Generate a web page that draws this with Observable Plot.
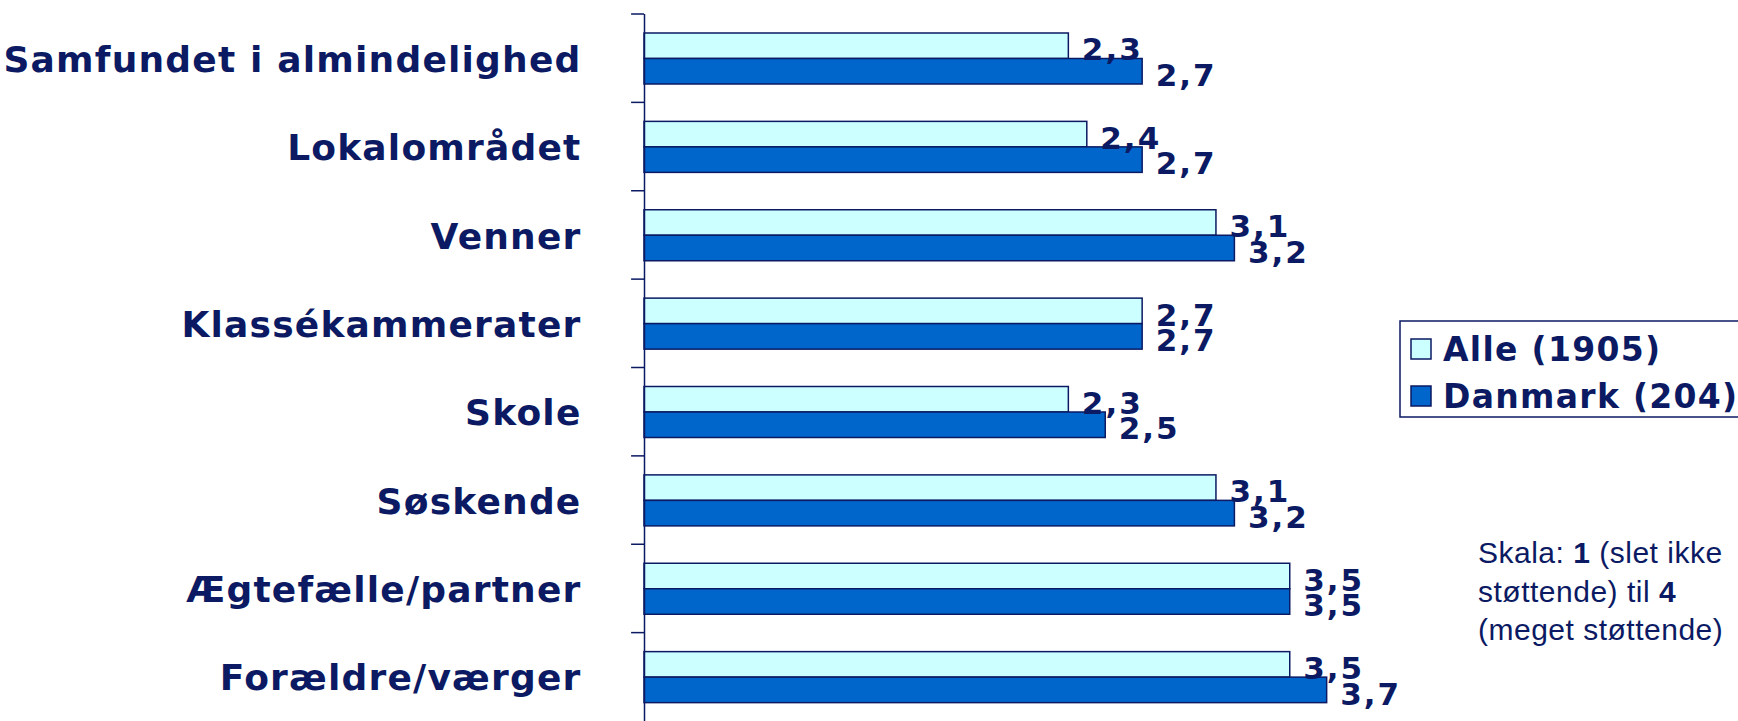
<!DOCTYPE html>
<html>
<head>
<meta charset="utf-8">
<script src="https://cdn.jsdelivr.net/npm/d3@7"></script>
<script src="https://cdn.jsdelivr.net/npm/@observablehq/plot@0.6"></script>
<style>
  html, body { margin: 0; padding: 0; background: #ffffff; }
  #wrap { position: relative; width: 1738px; height: 721px; overflow: hidden; }
  #wrap svg.chart g[aria-label="text"] text { letter-spacing: 2px; }
  #overlay { position: absolute; left: 0; top: 0; pointer-events: none; }
</style>
</head>
<body>
<div id="wrap"></div>
<script>
// ---- data ----
const categories = [
  "Samfundet i almindelighed",
  "Lokalområdet",
  "Venner",
  "Klassékammerater",
  "Skole",
  "Søskende",
  "Ægtefælle/partner",
  "Forældre/værger"
];
const seriesNames = ["Alle (1905)", "Danmark (204)"];
const alleValues = [2.3, 2.4, 3.1, 2.7, 2.3, 3.1, 3.5, 3.5];
const danmarkValues = [2.7, 2.7, 3.2, 2.7, 2.5, 3.2, 3.5, 3.7];
const scaleNote = [
  [["Skala: ", false], ["1", true], [" (slet ikke", false]],
  [["støttende) til ", false], ["4", true]],
  [["(meget støttende)", false]]
];

// ---- styles ----
const navy = "#0b1a63";
const fillAlle = "#ccffff";
const fillDanmark = "#0066cc";
const W = 1738, H = 721, mTop = 14, mBottom = 0, mLeft = 644, mRight = 356;
const step = (H - mTop - mBottom) / categories.length;
const barH = 25.5, groupTop = 19;
const tickLen = 0.07; // tick length in x units (outside the axis)

const fmt = v => v.toFixed(1).replace(".", ",");
const alleRows = categories.map((c, i) => ({category: c, value: alleValues[i], series: seriesNames[0]}));
const danRows = categories.map((c, i) => ({category: c, value: danmarkValues[i], series: seriesNames[1]}));

const centerA = groupTop + barH / 2 - step / 2;
const centerD = groupTop + barH * 1.5 - step / 2;

const chart = Plot.plot({
  width: W,
  height: H,
  marginTop: mTop,
  marginBottom: mBottom,
  marginLeft: mLeft,
  marginRight: mRight,
  style: {background: "transparent", overflow: "visible"},
  x: {domain: [0, 4], axis: null},
  y: {type: "band", domain: categories, padding: 0, round: false, axis: null},
  marks: [
    Plot.barX(alleRows, {
      x: "value", y: "category", fill: fillAlle, stroke: navy, strokeWidth: 1.5,
      insetTop: groupTop, insetBottom: step - groupTop - barH
    }),
    Plot.barX(danRows, {
      x: "value", y: "category", fill: fillDanmark, stroke: navy, strokeWidth: 1.5,
      insetTop: groupTop + barH, insetBottom: step - groupTop - 2 * barH
    }),
    // category boundary ticks on the left of the axis
    Plot.barX(categories, {
      y: d => d, x1: -tickLen, x2: 0, fill: navy,
      insetTop: -0.75, insetBottom: step - 0.75
    }),
    Plot.ruleX([0], {stroke: navy, strokeWidth: 1.5}),
    Plot.text(categories, {
      y: d => d, text: d => d, frameAnchor: "left", textAnchor: "end",
      dx: -63, dy: 1.6, fontSize: 36, fontWeight: "bold",
      fontFamily: "DejaVu Sans", fill: navy
    }),
    Plot.text(alleRows, {
      x: "value", y: "category", text: d => fmt(d.value), textAnchor: "start",
      dx: 13, dy: centerA + 4.3, fontSize: 31, fontWeight: "bold",
      fontFamily: "DejaVu Sans", fill: navy
    }),
    Plot.text(danRows, {
      x: "value", y: "category", text: d => fmt(d.value), textAnchor: "start",
      dx: 13, dy: centerD + 4.3, fontSize: 31, fontWeight: "bold",
      fontFamily: "DejaVu Sans", fill: navy
    })
  ]
});
chart.classList.add("chart");
document.getElementById("wrap").appendChild(chart);
// category labels: tighter spacing than the value labels
d3.select(chart).selectAll('g[aria-label="text"]').filter((d, i) => i === 0)
  .selectAll("text").style("letter-spacing", "1.2px");

// ---- legend and note overlay ----
const ov = d3.select("#wrap").append("svg")
  .attr("id", "overlay").attr("width", W).attr("height", H);

const lg = ov.append("g");
lg.append("rect").attr("x", 1400).attr("y", 321).attr("width", 400).attr("height", 96)
  .attr("fill", "#ffffff").attr("stroke", navy).attr("stroke-width", 1.5);
const legendFills = [fillAlle, fillDanmark];
seriesNames.forEach((name, i) => {
  const base = 361 + i * 47;
  lg.append("rect").attr("x", 1411).attr("y", base - 22).attr("width", 20).attr("height", 20)
    .attr("fill", legendFills[i]).attr("stroke", navy).attr("stroke-width", 1.5);
  lg.append("text").attr("x", 1443).attr("y", base)
    .attr("font-family", "DejaVu Sans").attr("font-weight", "bold").attr("font-size", 33)
    .attr("letter-spacing", "1.3px").attr("fill", navy).text(name);
});

const nt = ov.append("g").attr("font-family", "Liberation Sans, Arial, sans-serif")
  .attr("font-size", 30).attr("fill", navy).attr("letter-spacing", "0.5px");
scaleNote.forEach((parts, i) => {
  const t = nt.append("text").attr("x", 1478).attr("y", 563 + i * 38.5);
  parts.forEach(([s, b]) => {
    t.append("tspan").attr("font-weight", b ? "bold" : "normal").text(s);
  });
});
</script>
</body>
</html>
